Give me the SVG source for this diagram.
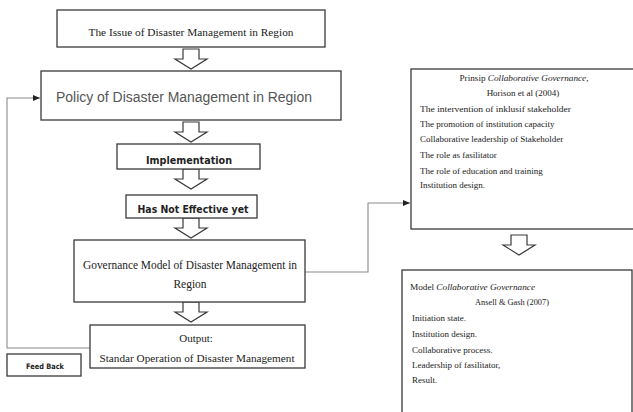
<svg xmlns="http://www.w3.org/2000/svg" width="633" height="412" viewBox="0 0 633 412">
<style>
.box{fill:#fff;stroke:#3a3a3a;stroke-width:1.3}
.arr{fill:#fff;stroke:#3a3a3a;stroke-width:1.2;stroke-linejoin:miter}
.con{fill:none;stroke:#8a8a8a;stroke-width:1.1}
.serif{font-family:"Liberation Serif","Times New Roman",serif;fill:#222}
.sans{font-family:"Liberation Sans",Arial,sans-serif;fill:#555}
.bold{font-family:"DejaVu Sans","Liberation Sans",sans-serif;font-weight:bold;fill:#222}
</style>
<defs>
<path id="blockArrow" d="M-8 0 H8 V10 H16 L0 20 L-16 10 H-8 Z"/>
<marker id="head" markerWidth="8" markerHeight="8" refX="7" refY="4" orient="auto" markerUnits="userSpaceOnUse">
<path d="M0 1 L7 4 L0 7 Z" fill="#222"/>
</marker>
</defs>
<rect width="633" height="412" fill="#fff"/>

<g id="connectors">
<path class="con" d="M90 348 H7 V98 H40" marker-end="url(#head)"/>
<path class="con" d="M305 272 H368 V203 H410" marker-end="url(#head)"/>
<use href="#blockArrow" class="arr" transform="translate(191 49)"/>
<use href="#blockArrow" class="arr" transform="translate(191 122)"/>
<use href="#blockArrow" class="arr" transform="translate(191 169)"/>
<use href="#blockArrow" class="arr" transform="translate(191 218)"/>
<use href="#blockArrow" class="arr" transform="translate(191 302)"/>
<use href="#blockArrow" class="arr" transform="translate(519 235)"/>
</g>

<g id="issue">
<rect class="box" x="57" y="10" width="268" height="37"/>
<text class="serif" x="191" y="36" font-size="11" text-anchor="middle" textLength="205" lengthAdjust="spacingAndGlyphs">The Issue of Disaster Management  in Region</text>
</g>

<g id="policy">
<rect class="box" x="41" y="71" width="300" height="49"/>
<text class="sans" x="184" y="102" font-size="14" text-anchor="middle" textLength="256" lengthAdjust="spacingAndGlyphs">Policy of Disaster Management in Region</text>
</g>

<g id="implementation">
<rect class="box" x="117" y="144" width="143" height="25"/>
<text class="bold" x="189" y="164" font-size="11" text-anchor="middle" textLength="86" lengthAdjust="spacingAndGlyphs">Implementation</text>
</g>

<g id="not-effective">
<rect class="box" x="126" y="195" width="131" height="23"/>
<text class="bold" x="193" y="213" font-size="11" text-anchor="middle" textLength="111" lengthAdjust="spacingAndGlyphs">Has Not Effective yet</text>
</g>

<g id="governance">
<rect class="box" x="74" y="240" width="231" height="62"/>
<text class="serif" x="190" y="269" font-size="11.5" text-anchor="middle" textLength="214" lengthAdjust="spacingAndGlyphs">Governance  Model of Disaster Management  in</text>
<text class="serif" x="190" y="288" font-size="11.5" text-anchor="middle">Region</text>
</g>

<g id="output">
<rect class="box" x="90" y="325" width="215" height="43"/>
<text class="serif" x="196" y="342" font-size="11" text-anchor="middle">Output:</text>
<text class="serif" x="197" y="362" font-size="11" text-anchor="middle" textLength="195" lengthAdjust="spacingAndGlyphs">Standar  Operation of Disaster Management</text>
</g>

<g id="feedback">
<rect class="box" x="7" y="354" width="74" height="22"/>
<text class="bold" x="45" y="369" font-size="7.5" text-anchor="middle" textLength="38" lengthAdjust="spacingAndGlyphs">Feed Back</text>
</g>

<g id="prinsip">
<rect class="box" x="411" y="69" width="240" height="160"/>
<g class="serif" font-size="9">
<text x="524" y="81" text-anchor="middle" textLength="129" lengthAdjust="spacingAndGlyphs">Prinsip <tspan font-style="italic">Collaborative Governance</tspan>,</text>
<text x="523" y="96" text-anchor="middle">Horison et al  (2004)</text>
<text x="420" y="112" textLength="151" lengthAdjust="spacingAndGlyphs">The intervention of inklusif stakeholder</text>
<text x="420" y="127">The promotion of institution capacity</text>
<text x="420" y="142">Collaborative leadership of Stakeholder</text>
<text x="420" y="158">The role as fasilitator</text>
<text x="420" y="174">The role of education and training</text>
<text x="420" y="188">Institution design.</text>
</g>
</g>

<g id="model">
<rect class="box" x="402" y="270" width="230" height="160"/>
<g class="serif" font-size="9">
<text x="410" y="290" textLength="125" lengthAdjust="spacingAndGlyphs">Model <tspan font-style="italic">Collaborative Governance</tspan></text>
<text x="475" y="305" textLength="74" lengthAdjust="spacingAndGlyphs">Ansell &amp; Gash (2007)</text>
<text x="412" y="321">Initiation state.</text>
<text x="412" y="337">Institution design.</text>
<text x="412" y="353">Collaborative process.</text>
<text x="412" y="368">Leadership of fasilitator,</text>
<text x="412" y="383">Result.</text>
</g>
</g>
</svg>
